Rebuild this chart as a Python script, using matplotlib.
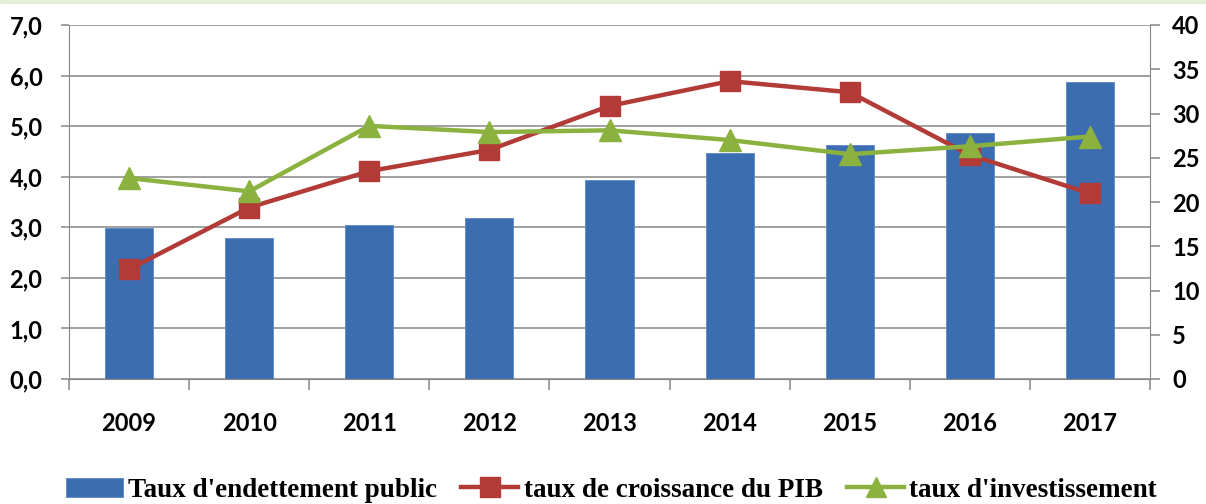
import matplotlib
matplotlib.use("Agg")
import matplotlib.pyplot as plt
from matplotlib.ticker import FuncFormatter, FixedLocator
from matplotlib.patches import Rectangle
import numpy as np

years = ["2009", "2010", "2011", "2012", "2013", "2014", "2015", "2016", "2017"]
debt = [17.1, 15.9, 17.4, 18.2, 22.5, 25.5, 26.4, 27.8, 33.6]        # right axis
growth = [2.17, 3.39, 4.11, 4.53, 5.40, 5.89, 5.67, 4.43, 3.67]      # left axis
invest = [22.7, 21.2, 28.6, 27.9, 28.1, 27.0, 25.4, 26.3, 27.4]      # right axis
labels = ["Taux d'endettement public", "taux de croissance du PIB", "taux d'investissement"]

BLUE = "#3D6DB1"
RED = "#B23A37"
GREEN = "#8BB13F"
GRAY = "#868686"

fig = plt.figure(figsize=(12.06, 5.04), dpi=100)
fig.patches.append(Rectangle((0, 1 - 3 / 504), 1, 3 / 504, transform=fig.transFigure,
                             color="#E2EFD9", zorder=0))
ax = fig.add_axes([69 / 1206, 1 - 379 / 504, (1150 - 69) / 1206, (379 - 25) / 504])
ax2 = ax.twinx()

x = np.arange(len(years))

ax.set_xlim(-0.5, len(years) - 0.5)
ax.set_ylim(0, 7)
ax2.set_ylim(0, 40)

ax.set_axisbelow(True)
ax.yaxis.grid(True, color=GRAY, linewidth=1.1)

bars = ax.bar(x, debt, width=0.4, color=BLUE, edgecolor="#5B86C5", linewidth=0.6,
              transform=ax2.transData, zorder=2, label=labels[0])
ax.set_ylim(0, 7)

l1, = ax2.plot(x, growth, color=RED, linewidth=3.2, marker="s", markersize=14,
               transform=ax.transData, label=labels[1], zorder=3)
l2, = ax2.plot(x, invest, color=GREEN, linewidth=3.2, marker="^", markersize=16,
               label=labels[2], zorder=4)
ax2.set_ylim(0, 40)
ax2.set_xlim(-0.5, len(years) - 0.5)

for a in (ax, ax2):
    for s in a.spines.values():
        s.set_visible(False)
ax.spines["left"].set_visible(True)
ax.spines["left"].set_color(GRAY)
ax.spines["bottom"].set_visible(True)
ax.spines["bottom"].set_color(GRAY)
ax2.spines["right"].set_visible(True)
ax2.spines["right"].set_color(GRAY)

tickfont = dict(family="Lato", weight="bold", size=17)

ax.set_yticks(np.arange(0, 7.01, 1))
ax.yaxis.set_major_formatter(FuncFormatter(lambda v, p: f"{v:.1f}".replace(".", ",")))
ax.tick_params(axis="y", direction="out", length=6, color=GRAY, width=1.1, pad=13)
ax2.set_yticks(np.arange(0, 41, 5))
ax2.tick_params(axis="y", direction="out", length=7, color=GRAY, width=1.1, pad=9)
for t in ax.get_yticklabels() + ax2.get_yticklabels():
    t.set_fontproperties(matplotlib.font_manager.FontProperties(**tickfont))

ax.set_xticks(x)
ax.set_xticklabels(years)
ax.xaxis.set_minor_locator(FixedLocator(np.arange(-0.5, len(years), 1)))
ax.tick_params(axis="x", which="major", length=0, pad=24)
ax.tick_params(axis="x", which="minor", direction="out", length=8, color=GRAY, width=1.1)
for t in ax.get_xticklabels():
    t.set_fontproperties(matplotlib.font_manager.FontProperties(**tickfont))
ax2.tick_params(axis="x", which="both", length=0)

leg = fig.legend([bars, l1, l2], labels, loc="center", bbox_to_anchor=(0.507, 0.027),
                 ncol=3, frameon=False, handlelength=2.1, handletextpad=0.2,
                 columnspacing=0.9, borderaxespad=0,
                 prop=dict(family="Liberation Serif", weight="bold", size=19.5))
for h in leg.legend_handles[1:]:
    h.set_markersize(14)

fig.savefig("out.png", dpi=100)
